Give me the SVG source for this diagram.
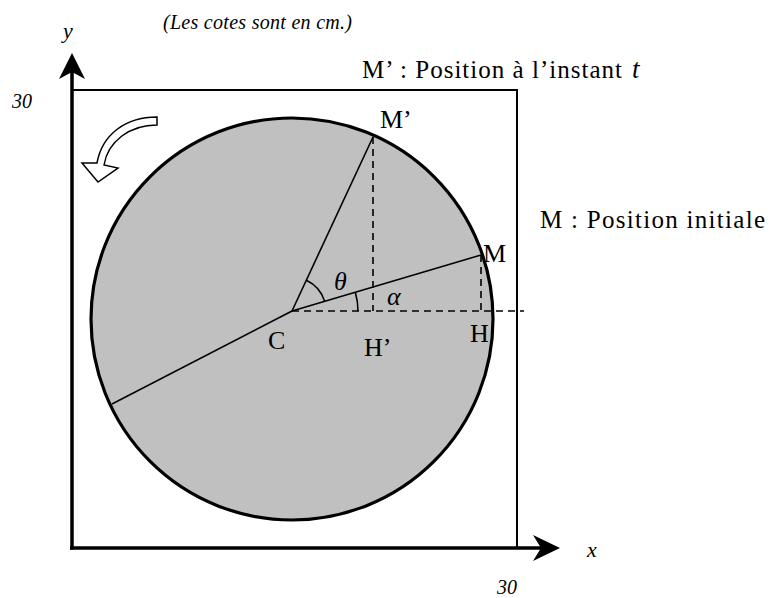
<svg xmlns="http://www.w3.org/2000/svg" width="782" height="598" viewBox="0 0 782 598">
  <style>
    .lbl { font-family: "Liberation Serif", "Times New Roman", serif; font-size: 26px; fill: #000; }
    .txt { font-family: "Liberation Serif", "Times New Roman", serif; font-size: 25px; fill: #000; }
    .it { font-family: "Liberation Serif", "Times New Roman", serif; font-style: italic; fill: #000; }
    .solid { stroke: #000; stroke-width: 1.6; fill: none; }
    .dash { stroke: #000; stroke-width: 1.6; fill: none; stroke-dasharray: 7 5; }
  </style>
  <rect width="782" height="598" fill="#fff"/>

  <g id="frame">
    <rect x="72" y="90" width="445" height="458" fill="none" stroke="#000" stroke-width="2"/>
  </g>

  <g id="disc">
    <circle cx="292" cy="319" r="201" fill="#c0c0c0" stroke="#000" stroke-width="3.2"/>
  </g>

  <g id="connectors">
    <line class="solid" x1="112" y1="404" x2="292" y2="311"/>
    <line class="solid" x1="292" y1="311" x2="481" y2="255"/>
    <line class="solid" x1="292" y1="311" x2="373" y2="137"/>
    <line class="dash" x1="292" y1="311" x2="524" y2="311"/>
    <line class="dash" x1="373" y1="137" x2="373" y2="311"/>
    <line class="dash" x1="481" y1="255" x2="481" y2="311"/>
    <path class="solid" d="M306.3,280.2 A34,34 0 0 1 324.6,301.3"/>
    <path class="solid" d="M355.3,292.2 A66,66 0 0 1 358,311"/>
  </g>

  <g id="axes">
    <line x1="72" y1="549.5" x2="72" y2="70" stroke="#000" stroke-width="3.5"/>
    <polygon points="72,53 85,79 72,72 59,79" fill="#000"/>
    <line x1="70" y1="548" x2="545" y2="548" stroke="#000" stroke-width="3.5"/>
    <polygon points="560,548 533,535 541,548 533,561" fill="#000"/>
    <text class="it" x="63" y="38" font-size="22">y</text>
    <text class="it" x="587" y="557" font-size="22">x</text>
    <text class="it" x="12" y="108" font-size="20">30</text>
    <text class="it" x="497" y="594" font-size="20">30</text>
  </g>

  <g id="rotation-arrow">
    <path d="M157,117 C125,117 102,135 97,163 L82,163 L98,182 L118,168 L104,165 C108,141 130,125 157,125 Z" fill="#fff" stroke="#000" stroke-width="1.5" stroke-linejoin="miter"/>
  </g>

  <g id="labels">
    <text class="it" x="163" y="29" font-size="20" textLength="189" lengthAdjust="spacing">(Les cotes sont en cm.)</text>
    <text class="txt" x="362" y="78" textLength="260" lengthAdjust="spacing">M’ : Position à l’instant</text>
    <text class="it" x="632" y="78" font-size="27">t</text>
    <text class="txt" x="540" y="228" textLength="225" lengthAdjust="spacing">M : Position initiale</text>
  </g>

  <g id="point-M-prime"><text class="lbl" x="380" y="128">M’</text></g>
  <g id="point-M"><text class="lbl" x="483" y="262">M</text></g>
  <g id="point-H"><text class="lbl" x="470" y="342">H</text></g>
  <g id="point-C"><text class="lbl" x="268" y="349">C</text></g>
  <g id="point-H-prime"><text class="lbl" x="364" y="356">H’</text></g>
  <g id="angle-theta"><text class="it" x="334" y="290" font-size="26">θ</text></g>
  <g id="angle-alpha"><text class="it" x="387" y="305" font-size="26">α</text></g>
</svg>
